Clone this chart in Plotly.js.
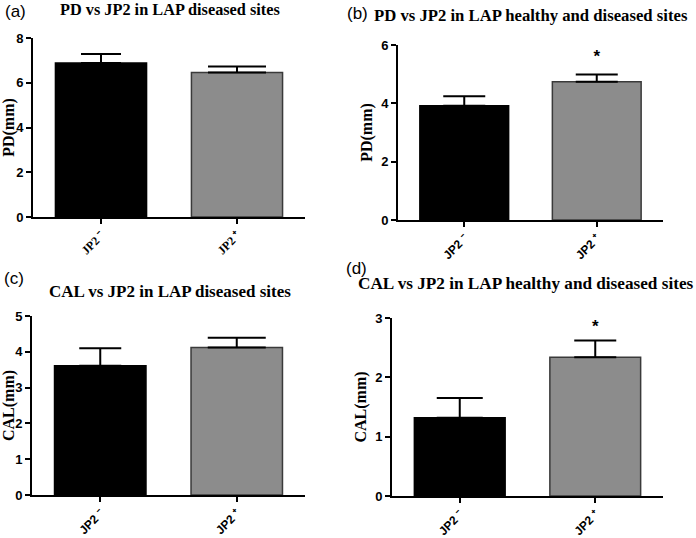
<!DOCTYPE html>
<html>
<head>
<meta charset="utf-8">
<script src="https://cdn.plot.ly/plotly-3.0.1.min.js"></script>
<style>html,body{margin:0;padding:0;background:#fff}#chart{width:696px;height:538px}</style>
</head>
<body>
<div id="chart"></div>
<script>
// ---- data ----
const categories = ['JP2-', 'JP2+'];
const tickLabels = ['JP2 \u207B', 'JP2 \u207A'];

const pdDiseasedMean = [6.88, 6.46];
const pdDiseasedErr  = [0.40, 0.27];

const pdAllMean = [3.92, 4.74];
const pdAllErr  = [0.32, 0.25];

const calDiseasedMean = [3.61, 4.12];
const calDiseasedErr  = [0.49, 0.27];

const calAllMean = [1.32, 2.34];
const calAllErr  = [0.33, 0.28];

const pdAllStars  = [null, 5.55];
const calAllStars = [null, 2.84];

const panelTitles = [
  'PD vs JP2 in LAP diseased sites',
  'PD vs JP2 in LAP healthy and diseased sites',
  'CAL vs JP2 in LAP diseased sites',
  'CAL vs JP2 in LAP healthy and diseased sites'
];
const panelLetters = ['(a)', '(b)', '(c)', '(d)'];
const yTitles = ['PD(mm)', 'PD(mm)', 'CAL(mm)', 'CAL(mm)'];

// ---- styling ----
const W = 696, H = 538;
const fills = ['#000000', '#8c8c8c'];
const edges = ['#000000', '#3a3a3a'];
const panels = [
  {mean: pdDiseasedMean, err: pdDiseasedErr, stars: null, ymax: 8, dtick: 2,
   px: [33, 305], py: [38, 217], caps: [20, 29], xfont: 'Liberation Serif'},
  {mean: pdAllMean, err: pdAllErr, stars: pdAllStars, ymax: 6, dtick: 2,
   px: [398, 663], py: [45, 220], caps: [21, 21], xfont: 'Liberation Sans'},
  {mean: calDiseasedMean, err: calDiseasedErr, stars: null, ymax: 5, dtick: 1,
   px: [32, 305], py: [316, 495], caps: [21, 29], xfont: 'Liberation Sans'},
  {mean: calAllMean, err: calAllErr, stars: calAllStars, ymax: 3, dtick: 1,
   px: [392, 663], py: [318, 496], caps: [23, 21], xfont: 'Liberation Sans'}
];

const traces = [];
const layout = {
  width: W, height: H,
  margin: {l: 0, r: 0, t: 0, b: 0},
  paper_bgcolor: '#ffffff', plot_bgcolor: '#ffffff',
  showlegend: false,
  barmode: 'overlay',
  annotations: []
};

panels.forEach((p, i) => {
  const n = i + 1;
  const xa = n === 1 ? 'x' : 'x' + n;
  const ya = n === 1 ? 'y' : 'y' + n;
  const xk = n === 1 ? 'xaxis' : 'xaxis' + n;
  const yk = n === 1 ? 'yaxis' : 'yaxis' + n;

  categories.forEach((c, j) => {
    traces.push({
      type: 'bar', x: [c], y: [p.mean[j]], xaxis: xa, yaxis: ya,
      width: 0.67,
      marker: {color: fills[j], line: {color: edges[j], width: 1.5}},
      error_y: {type: 'data', symmetric: false, array: [p.err[j]], arrayminus: [0],
                color: '#000', thickness: 2, width: p.caps[j]},
      hoverinfo: 'skip'
    });
  });

  if (p.stars) {
    traces.push({
      type: 'scatter', mode: 'text', x: categories, y: p.stars,
      text: p.stars.map(v => v == null ? '' : '*'),
      textfont: {family: 'Liberation Sans', size: 17, color: '#000', weight: 'bold'},
      xaxis: xa, yaxis: ya, hoverinfo: 'skip'
    });
  }

  const tv = [];
  for (let v = 0; v <= p.ymax; v += p.dtick) tv.push(v);

  layout[xk] = {
    domain: [p.px[0] / W, p.px[1] / W],
    anchor: ya,
    type: 'category',
    range: [-0.5, 1.5],
    tickvals: categories, ticktext: tickLabels,
    tickangle: -45,
    tickfont: {family: p.xfont, size: 12, color: '#000', weight: 'bold'},
    showline: true, linecolor: '#000', linewidth: 2,
    ticks: 'outside', ticklen: 5, tickwidth: 2, tickcolor: '#000',
    showgrid: false, zeroline: false, fixedrange: true
  };
  layout[yk] = {
    domain: [1 - p.py[1] / H, 1 - p.py[0] / H],
    anchor: xa,
    range: [0, p.ymax],
    tickvals: tv,
    tickfont: {family: 'Liberation Sans', size: 13, color: '#000', weight: 'bold'},
    showline: true, linecolor: '#000', linewidth: 2,
    ticks: 'outside', ticklen: 5, tickwidth: 2, tickcolor: '#000',
    showgrid: false, zeroline: false, fixedrange: true,
    title: {text: yTitles[i], font: {family: 'Liberation Serif', size: 16, color: '#000', weight: 'bold'}, standoff: 5}
  };
});

// titles and panel letters
const titlePos = [[170, 10], [531, 15], [170, 291], [526, 283]];
const titleSize = [16.3, 16.7, 17, 17.2];
const letterPos = [[15, 11], [357, 14], [14, 278], [356, 268]];
panelTitles.forEach((t, i) => {
  layout.annotations.push({
    xref: 'paper', yref: 'paper', x: titlePos[i][0] / W, y: 1 - titlePos[i][1] / H,
    xanchor: 'center', yanchor: 'middle', showarrow: false, text: t,
    font: {family: 'Liberation Serif', size: titleSize[i], color: '#000', weight: 'bold'}
  });
  layout.annotations.push({
    xref: 'paper', yref: 'paper', x: letterPos[i][0] / W, y: 1 - letterPos[i][1] / H,
    xanchor: 'center', yanchor: 'middle', showarrow: false, text: panelLetters[i],
    font: {family: 'Liberation Sans', size: 17, color: '#000'}
  });
});

Plotly.newPlot('chart', traces, layout, {staticPlot: true, displayModeBar: false});
</script>
</body>
</html>
